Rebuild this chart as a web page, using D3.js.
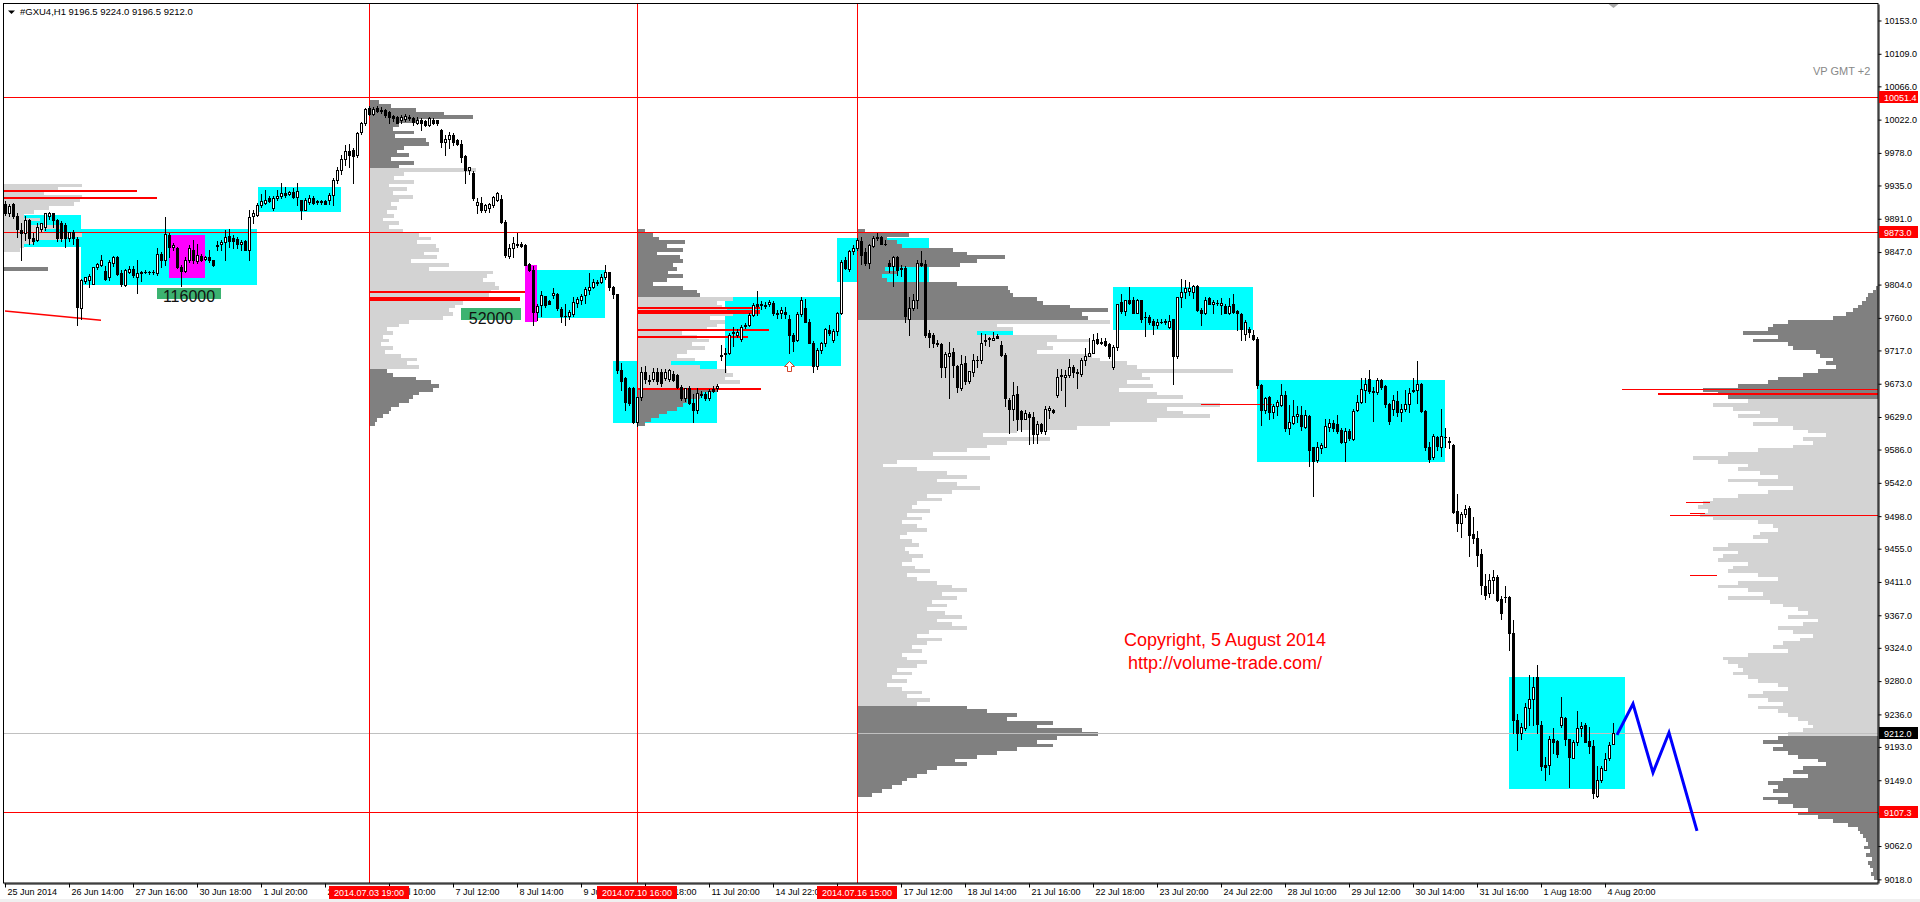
<!DOCTYPE html>
<html><head><meta charset="utf-8">
<script src="https://cdn.jsdelivr.net/npm/d3@7/dist/d3.min.js"></script>
<style>
html,body{margin:0;padding:0;background:#fff;overflow:hidden}
svg{display:block}
text{font-family:"Liberation Sans",Arial,sans-serif}
</style></head><body>
<svg id="chart" width="1920" height="902"></svg>
<script>
// ================= DATA =================
const title = "#GXU4,H1  9196.5 9224.0 9196.5 9212.0";
const indicatorName = "VP GMT +2";
const copyrightLines = ["Copyright, 5 August 2014", "http://volume-trade.com/"];

// H1 bars, index 0 = 25 Jun 2014 12:00 ; [open, high, low, close]
const ohlc = [
[9911,9915,9896,9898],[9898,9911,9894,9908],[9910,9912,9892,9894],[9894,9898,9867,9878],[9876,9885,9836,9872],
[9872,9894,9863,9890],[9890,9891,9858,9865],[9865,9872,9858,9861],[9863,9885,9861,9880],[9878,9886,9875,9885],
[9880,9899,9876,9898],[9894,9900,9891,9899],[9898,9899,9880,9889],[9889,9891,9861,9865],[9885,9888,9862,9865],
[9883,9885,9854,9865],[9865,9874,9862,9874],[9874,9876,9858,9865],[9864,9867,9751,9775],[9773,9811,9759,9810],
[9809,9814,9806,9814],[9810,9818,9801,9815],[9805,9827,9805,9827],[9827,9833,9824,9831],[9830,9843,9828,9837],
[9822,9828,9810,9812],[9814,9836,9810,9834],[9832,9842,9828,9840],[9840,9842,9817,9818],[9819,9823,9802,9805],
[9804,9825,9802,9823],[9821,9828,9819,9824],[9824,9828,9814,9817],[9814,9836,9793,9819],[9819,9822,9809,9821],
[9821,9823,9819,9820],[9820,9822,9818,9821],[9820,9823,9818,9821],[9819,9852,9817,9844],[9844,9847,9827,9837],
[9837,9893,9830,9871],[9870,9872,9841,9854],[9854,9859,9850,9856],[9853,9854,9826,9827],[9827,9830,9802,9822],
[9822,9841,9821,9836],[9836,9856,9834,9852],[9850,9863,9832,9836],[9835,9858,9832,9843],[9842,9844,9835,9836],
[9838,9842,9836,9841],[9841,9850,9834,9836],[9836,9837,9828,9830],[9855,9861,9850,9856],[9857,9863,9850,9860],
[9860,9876,9836,9867],[9868,9878,9854,9861],[9865,9869,9853,9861],[9864,9867,9852,9858],[9858,9863,9850,9860],
[9861,9863,9850,9850],[9850,9902,9836,9893],[9894,9902,9885,9898],[9896,9912,9894,9909],[9909,9924,9907,9915],
[9912,9929,9911,9916],[9918,9921,9913,9915],[9905,9921,9902,9919],[9918,9929,9916,9921],[9921,9938,9918,9925],
[9925,9933,9920,9922],[9924,9928,9922,9927],[9927,9932,9919,9920],[9920,9938,9909,9928],[9916,9916,9891,9902],
[9903,9918,9902,9916],[9913,9922,9911,9918],[9918,9921,9910,9912],[9913,9916,9911,9914],[9914,9916,9911,9913],
[9915,9916,9910,9911],[9916,9925,9911,9923],[9922,9945,9909,9942],[9942,9960,9938,9955],[9955,9975,9950,9970],
[9970,9988,9962,9980],[9980,9990,9960,9975],[9982,9984,9938,9974],[9975,10005,9973,10004],[10005,10019,10003,10017],
[10017,10038,10015,10036],[10037,10040,10028,10030],[10030,10039,10028,10036],[10037,10040,10032,10034],[10034,10039,10031,10035],
[10035,10036,10025,10028],[10032,10033,10017,10026],[10027,10028,10020,10024],[10026,10027,10017,10017],[10022,10028,10018,10025],
[10023,10030,10020,10027],[10024,10028,10021,10025],[10024,10026,10015,10019],[10018,10025,10016,10022],[10022,10024,10008,10017],
[10020,10021,10013,10015],[10015,10026,10013,10024],[10022,10024,10016,10017],[10021,10022,10015,10017],[10008,10010,9986,9993],
[9993,10002,9975,9996],[9996,10005,9984,10002],[10002,10004,9988,9993],[9995,9997,9988,9990],[9990,9995,9966,9973],
[9974,9975,9938,9955],[9955,9960,9950,9959],[9952,9954,9916,9918],[9909,9919,9898,9913],[9912,9920,9900,9903],
[9903,9911,9900,9909],[9905,9912,9900,9911],[9909,9921,9907,9920],[9916,9926,9914,9925],[9917,9923,9886,9887],
[9887,9889,9841,9843],[9842,9858,9839,9852],[9852,9867,9841,9859],[9858,9872,9854,9856],[9858,9860,9854,9855],
[9856,9858,9830,9830],[9831,9832,9822,9823],[9823,9828,9751,9768],[9768,9779,9757,9776],[9777,9795,9762,9790],
[9789,9789,9775,9777],[9782,9784,9778,9779],[9790,9799,9786,9793],[9792,9793,9770,9773],[9772,9775,9755,9762],
[9763,9779,9751,9762],[9762,9771,9758,9768],[9765,9788,9762,9781],[9780,9788,9775,9785],[9784,9791,9779,9789],
[9790,9801,9780,9798],[9797,9819,9792,9801],[9801,9812,9799,9807],[9806,9810,9804,9808],[9808,9818,9806,9814],
[9814,9830,9812,9821],[9820,9821,9797,9801],[9801,9802,9786,9791],[9791,9792,9687,9691],[9691,9700,9665,9676],
[9680,9682,9638,9649],[9667,9669,9645,9647],[9667,9669,9621,9623],[9622,9656,9617,9656],[9656,9695,9652,9689],
[9689,9696,9674,9679],[9678,9684,9672,9676],[9679,9694,9676,9689],[9689,9694,9672,9676],[9689,9693,9670,9674],
[9680,9692,9678,9689],[9679,9693,9676,9691],[9686,9690,9676,9678],[9684,9686,9668,9669],[9669,9671,9652,9654],
[9654,9668,9650,9667],[9667,9670,9646,9648],[9647,9660,9623,9638],[9638,9667,9634,9661],[9660,9663,9656,9658],
[9659,9662,9652,9654],[9654,9666,9652,9664],[9666,9670,9662,9664],[9667,9673,9664,9670],[9709,9724,9705,9711],
[9712,9720,9689,9714],[9714,9740,9712,9737],[9742,9748,9723,9740],[9737,9745,9735,9742],[9732,9750,9730,9748],
[9749,9753,9747,9751],[9751,9766,9749,9764],[9764,9780,9762,9777],[9779,9796,9764,9776],[9777,9782,9772,9778],
[9777,9781,9773,9776],[9778,9783,9776,9781],[9780,9782,9764,9766],[9766,9770,9760,9765],[9766,9774,9760,9770],
[9768,9774,9760,9765],[9758,9764,9713,9737],[9737,9740,9716,9729],[9731,9768,9729,9765],[9765,9788,9762,9784],
[9773,9785,9755,9755],[9755,9758,9727,9727],[9727,9729,9688,9696],[9696,9720,9692,9718],[9717,9728,9714,9727],
[9727,9747,9723,9745],[9744,9750,9738,9740],[9731,9745,9728,9743],[9743,9768,9738,9766],[9767,9836,9765,9834],
[9836,9840,9825,9826],[9824,9850,9822,9848],[9848,9856,9845,9852],[9852,9866,9850,9863],[9862,9867,9831,9843],
[9847,9852,9830,9833],[9833,9858,9826,9856],[9855,9868,9854,9866],[9866,9872,9863,9867],[9867,9868,9858,9858],
[9858,9863,9856,9858],[9833,9836,9821,9828],[9828,9842,9802,9840],[9840,9842,9817,9823],[9824,9830,9815,9826],
[9826,9828,9755,9762],[9759,9788,9737,9773],[9773,9792,9771,9784],[9783,9836,9773,9832],[9832,9849,9829,9830],
[9831,9836,9735,9737],[9740,9744,9722,9735],[9737,9740,9722,9727],[9727,9731,9723,9726],[9726,9727,9682,9695],
[9695,9715,9682,9712],[9709,9728,9654,9714],[9715,9720,9682,9698],[9696,9698,9662,9669],[9668,9711,9665,9699],
[9700,9709,9673,9676],[9676,9690,9674,9690],[9688,9712,9683,9705],[9705,9709,9695,9705],[9704,9740,9701,9727],
[9729,9739,9724,9731],[9732,9735,9723,9734],[9731,9742,9731,9734],[9736,9739,9733,9734],[9724,9730,9709,9711],
[9711,9713,9643,9654],[9651,9654,9608,9640],[9640,9675,9625,9658],[9659,9670,9612,9627],[9637,9638,9611,9627],
[9627,9638,9626,9634],[9633,9635,9594,9629],[9629,9635,9595,9607],[9607,9624,9595,9620],[9620,9621,9608,9610],
[9610,9644,9607,9640],[9638,9643,9628,9641],[9638,9640,9634,9635],[9658,9692,9656,9682],[9683,9692,9665,9684],
[9682,9691,9643,9685],[9684,9706,9682,9695],[9695,9698,9682,9688],[9688,9693,9667,9687],[9686,9707,9683,9705],
[9705,9720,9698,9709],[9710,9734,9709,9714],[9714,9739,9713,9731],[9732,9740,9726,9727],[9727,9734,9726,9728],
[9730,9734,9723,9724],[9726,9727,9707,9709],[9695,9724,9692,9722],[9722,9778,9717,9778],[9781,9791,9766,9769],
[9769,9784,9764,9784],[9784,9801,9778,9780],[9783,9788,9766,9767],[9767,9785,9766,9783],[9783,9784,9754,9759],
[9761,9768,9736,9761],[9761,9764,9752,9754],[9756,9758,9739,9750],[9751,9758,9747,9755],[9755,9758,9753,9755],
[9754,9758,9752,9756],[9748,9764,9746,9756],[9758,9759,9673,9709],[9709,9788,9707,9787],[9787,9811,9775,9794],
[9794,9810,9786,9799],[9796,9808,9790,9799],[9794,9803,9786,9802],[9802,9803,9769,9770],[9771,9773,9750,9766],
[9766,9788,9765,9784],[9786,9788,9779,9779],[9779,9784,9766,9781],[9780,9783,9777,9780],[9777,9786,9765,9780],
[9776,9779,9766,9767],[9766,9786,9765,9776],[9778,9792,9766,9768],[9769,9771,9744,9766],[9765,9767,9731,9745],
[9739,9757,9731,9755],[9745,9748,9735,9742],[9737,9744,9731,9732],[9732,9735,9667,9671],[9671,9673,9618,9638],
[9638,9656,9634,9654],[9655,9657,9627,9635],[9635,9646,9628,9644],[9644,9652,9632,9649],[9645,9673,9643,9658],
[9658,9664,9610,9615],[9615,9645,9607,9623],[9621,9651,9620,9630],[9630,9643,9623,9633],[9632,9644,9612,9617],
[9616,9638,9615,9632],[9630,9632,9564,9586],[9589,9590,9524,9571],[9572,9596,9570,9589],[9588,9595,9582,9592],
[9590,9627,9589,9617],[9616,9627,9610,9621],[9621,9625,9610,9614],[9620,9632,9608,9610],[9612,9614,9595,9596],
[9596,9614,9571,9610],[9610,9613,9599,9601],[9600,9640,9599,9637],[9638,9658,9637,9649],[9649,9681,9648,9666],
[9665,9681,9649,9673],[9679,9691,9661,9664],[9663,9669,9624,9662],[9662,9680,9660,9678],[9678,9679,9666,9669],
[9670,9671,9642,9646],[9646,9648,9620,9624],[9640,9658,9632,9651],[9650,9664,9630,9635],[9635,9646,9624,9639],
[9639,9665,9637,9646],[9646,9667,9635,9661],[9664,9680,9662,9665],[9665,9703,9647,9673],[9673,9674,9635,9637],
[9637,9638,9585,9590],[9589,9596,9570,9574],[9576,9607,9573,9604],[9602,9604,9586,9591],[9590,9640,9577,9604],
[9603,9614,9590,9602],[9597,9602,9588,9596],[9592,9593,9502,9503],[9505,9527,9478,9489],[9489,9503,9471,9501],
[9501,9513,9497,9508],[9509,9511,9445,9473],[9475,9497,9463,9469],[9469,9478,9432,9447],[9448,9454,9395,9407],
[9406,9422,9389,9394],[9396,9421,9391,9414],[9414,9427,9396,9417],[9418,9420,9386,9387],[9389,9392,9362,9370],
[9391,9406,9384,9391],[9391,9393,9321,9343],[9344,9361,9211,9229],[9229,9237,9189,9211],[9211,9224,9203,9220],
[9218,9251,9215,9246],[9245,9288,9222,9257],[9257,9286,9222,9272],[9285,9301,9211,9223],[9222,9227,9163,9168],
[9169,9180,9149,9167],[9169,9207,9157,9203],[9204,9218,9185,9200],[9201,9202,9180,9184],[9222,9259,9220,9232],
[9231,9232,9196,9204],[9203,9204,9140,9180],[9179,9202,9178,9199],[9199,9240,9196,9218],[9218,9226,9207,9221],
[9222,9224,9199,9200],[9201,9220,9185,9194],[9194,9202,9126,9132],[9128,9168,9127,9149],[9149,9168,9147,9165],
[9163,9185,9163,9177],[9178,9200,9176,9196],[9196.5,9224,9196.5,9212]
];

const xTickBars = [0,16,32,48,64,80,96,112,128,144,160,176,192,208,224,240,256,272,288,304,320,336,352,368,384,400];
const xTickLabels = ["25 Jun 2014","26 Jun 14:00","27 Jun 16:00","30 Jun 18:00","1 Jul 20:00","2 Jul 22:00","4 Jul 10:00",
 "7 Jul 12:00","8 Jul 14:00","9 Jul 16:00","10 Jul 18:00","11 Jul 20:00","14 Jul 22:00","16 Jul 10:00","17 Jul 12:00",
 "18 Jul 14:00","21 Jul 16:00","22 Jul 18:00","23 Jul 20:00","24 Jul 22:00","28 Jul 10:00","29 Jul 12:00","30 Jul 14:00",
 "31 Jul 16:00","1 Aug 18:00","4 Aug 20:00"];
const yTickValues = [10153,10109,10066,10022,9978,9935,9891,9847,9804,9760,9717,9673,9629,9586,9542,9498,9455,9411,
 9367,9324,9280,9236,9193,9149,9105,9062,9018];

const redLevels = [10051.4, 9873.0, 9107.3];
const lastPrice = 9212.0;
const markerBars = [91, 158, 213];
const markerLabels = ["2014.07.03 19:00", "2014.07.10 16:00", "2014.07.16 15:00"];

// zones: [startBar, endBar, highPrice, lowPrice]
const cyanZones = [[-0.25,19,9896,9854],[19,63,9877,9803],[63.2,84,9933,9900],[133,150,9823,9760],[152,178,9703,9621],
 [180,209,9787,9697],[208,231,9866,9807],[229,252,9745,9700],[277,312,9801,9744],[313,360,9678,9570],[376,405,9286,9138]];
const magentaZones = [[41,50,9869,9813],[130,133,9830,9755]];
const volumeTexts = ["116000", "52000"];
const volumeZones = [[38,54,9800,9785],[114,129,9773,9757]];

// volume profiles, rows every 5 points from the top price downward
const prof1Top = 9935, prof1Vols = [78,54,40,78,76,70,45,30,20,36,25,56,40,78,60,30,20,16,0,0,0,0,44];
const prof2Top = 10045, prof2Vols = [10,22,47,75,104,50,30,24,45,26,57,60,35,28,40,22,45,30,
 107,35,25,45,20,38,24,44,30,22,28,18,25,14,30,20,34,50,62,48,67,70,55,68,42,80,60,124,118,114,126,130,122,120,115,94,86,80,84,74,40,30,18,24,14,20,12,24,16,32,48,38,50,
 18,24,47,62,70,64,50,44,40,30,22,20,14,8,6];
const prof3Top = 9875, prof3Vols = [8,16,22,48,30,46,20,43,46,36,40,31,46,30,16,46,60,63,
 96,80,85,90,96,73,88,80,70,45,60,72,55,68,50,40,58,34,63,90,96,88,103,80,
 80,66,63,50,46,40,30,22,14,8];
const prof4Top = 9875, prof4Vols = [8,52,30,40,45,96,110,148,120,103,28,40,25,30,100,151,153,156,180,186,213,251,225,231,
 253,140,156,120,200,233,190,196,180,235,243,270,280,376,285,293,270,296,262,300,326,290,363,310,326,353,300,253,220,160,126,193,150,130,110,76,133,40,26,60,
 90,110,80,100,123,95,70,85,60,55,73,50,65,45,60,70,50,43,55,62,48,52,66,55,45,58,73,50,60,80,95,110,85,100,75,90,70,88,105,80,95,110,72,60,85,70,55,65,45,50,70,60,40,55,35,50,30,45,65,50,73,60,
 110,130,160,150,196,180,225,241,200,180,196,160,140,120,98,110,80,70,60,50,45,35,25,15];
const prof5Top = 9800, prof5Vols = [2,5,10,12,16,20,25,32,45,90,105,110,135,100,125,90,85,62,58,45,52,42,60,75,100,110,140,175,160,150,
 130,165,145,118,140,100,125,85,70,52,75,65,85,120,150,185,160,130,140,118,100,150,120,85,110,140,165,175,180,170,
 178,165,120,105,100,118,125,110,150,165,140,155,160,130,145,150,120,100,140,160,130,115,150,108,95,80,70,90,60,75,
 100,85,65,78,95,105,90,130,155,150,140,135,145,130,120,100,90,115,130,110,95,120,100,90,80,70,65,75,90,
 100,115,95,105,90,80,60,52,75,85,70,95,110,100,105,90,115,100,85,70,80,60,45,30,20,18,15,12,10,14,8,12,6,10,8,5,7,4];
const profAnchors = [-0.25, 91, 158, 213, 468.25];
const profValueAreas = [[9940,9840],[9957,9692],[9787,9668],[9757,9248],[9654,9208]];
// red volume marks anchored on profiles: [price, volume]
const prof1Marks = [[9929,133],[9920,153]];
const prof2Marks = [[9796,156],[9787,151],[9785,151]];
const prof3Marks = [[9775,123],[9771,123],[9768,123],[9745,132],[9736,111],[9667,124]];
const prof5MarksThin = [[9666,256]];
const prof5Marks = [[9661,220]];
// free red segments: [price, startBar, endBar]
const redSegments = [[9646,299,316.75],[9517,420.25,426.25],[9502,421.25,425],[9499,416.25,468.25],[9420,421.25,428]];
const slopedRed = [[0,9769],[24,9757]];
// forecast zig-zag
const forecastBars = [403,407,412,416,423];
const forecastPrices = [9209,9250,9159,9212,9082];
const arrowMark = [196, 9703];
const copyrightAnchor = [305, 9327];

// ================= DRAW =================
const svg = d3.select("#chart");
const L = 4, R = 1878, T = 4, B = 883;
const x = d3.scaleLinear().domain([-0.25, 468.25]).range([L, R]);
const y = d3.scaleLinear().domain([9013.2, 10174.8]).range([B, T]);
const vol = d3.scaleLinear().domain([0, 100]).range([0, 100]);
const FONT = '"Liberation Sans", Arial, sans-serif';

svg.append("rect").attr("width",1920).attr("height",902).attr("fill","#fff");
svg.append("rect").attr("x",0).attr("y",899).attr("width",1920).attr("height",3).attr("fill","#f0f0f0");

svg.append("clipPath").attr("id","plot").append("rect").attr("x",L).attr("y",T).attr("width",R-L).attr("height",B-T);
const plot = svg.append("g").attr("clip-path","url(#plot)").attr("shape-rendering","crispEdges");

function zone(g, z, fill){
  const x0 = Math.round(x(z[0])), x1 = Math.round(x(z[1]));
  const y0 = Math.round(y(z[2])), y1 = Math.round(y(z[3]));
  g.append("rect").attr("x",x0).attr("y",y0).attr("width",x1-x0).attr("height",y1-y0).attr("fill",fill);
}
cyanZones.forEach(z => zone(plot, z, "#00ffff"));
magentaZones.forEach(z => zone(plot, z, "#ff00ff"));

// volume profiles
const profTops = [prof1Top, prof2Top, prof3Top, prof4Top, prof5Top];
const profVols = [prof1Vols, prof2Vols, prof3Vols, prof4Vols, prof5Vols];
const profDirs = [1,1,1,1,-1];
profVols.forEach((vols, pi) => {
  const ax = Math.round(x(profAnchors[pi]));
  const dir = profDirs[pi];
  const va = profValueAreas[pi];
  const g = plot.append("g");
  vols.forEach((v, k) => {
    if (v <= 0) return;
    const p = profTops[pi] - 5*k;
    const y0 = Math.round(y(p + 2.5)), y1 = Math.round(y(p - 2.5));
    const w = Math.round(vol(v));
    const inVA = p <= va[0] && p >= va[1];
    g.append("rect").attr("x", dir > 0 ? ax : ax - w).attr("y", y0)
      .attr("width", w).attr("height", Math.max(1, y1 - y0))
      .attr("fill", inVA ? "#d3d3d3" : "#808080");
  });
});
function marks(list, pi, thick){
  const ax = Math.round(x(profAnchors[pi])), dir = profDirs[pi];
  list.forEach(m => {
    const w = Math.round(vol(m[1]));
    plot.append("rect").attr("x", dir > 0 ? ax : ax - w).attr("y", Math.round(y(m[0])))
      .attr("width", w).attr("height", thick).attr("fill", "#ff0000");
  });
}
marks(prof1Marks, 0, 2); marks(prof2Marks, 1, 2); marks(prof3Marks, 2, 2);
marks(prof5MarksThin, 4, 1); marks(prof5Marks, 4, 2);
redSegments.forEach(s => {
  const x0 = Math.round(x(s[1])), x1 = Math.round(x(s[2]));
  plot.append("rect").attr("x",x0).attr("y",Math.round(y(s[0]))).attr("width",x1-x0).attr("height",1).attr("fill","#ff0000");
});
plot.append("line").attr("x1",x(slopedRed[0][0])).attr("y1",y(slopedRed[0][1])).attr("x2",x(slopedRed[1][0])).attr("y2",y(slopedRed[1][1]))
  .attr("stroke","#ff0000").attr("stroke-width",1.5).attr("shape-rendering","auto");

// volume labels
volumeZones.forEach((z,i) => {
  zone(plot, z, "#3cb371");
  plot.append("text").attr("x",(x(z[0])+x(z[1]))/2).attr("y",y(z[3])+3.5).attr("text-anchor","middle")
    .style("font",`16px ${FONT}`).attr("fill","#111").text(volumeTexts[i]);
});

// horizontal / vertical lines
plot.append("rect").attr("x",L).attr("y",Math.round(y(lastPrice))).attr("width",R-L).attr("height",1).attr("fill","#c0c0c0");
redLevels.forEach(p => plot.append("rect").attr("x",L).attr("y",Math.round(y(p))).attr("width",R-L).attr("height",1).attr("fill","#ff0000"));
markerBars.forEach(b => plot.append("rect").attr("x",Math.round(x(b))).attr("y",T).attr("width",1).attr("height",B-T).attr("fill","#ff0000"));

// candles
const cg = plot.append("g");
ohlc.forEach((d, i) => {
  const [o,h,l,c] = d;
  const cx = Math.round(x(i));
  const yh = Math.round(y(h)), yl = Math.round(y(l));
  cg.append("rect").attr("x",cx).attr("y",yh).attr("width",1).attr("height",Math.max(1,yl-yh+1)).attr("fill","#000");
  const yt = Math.round(y(Math.max(o,c))), yb = Math.round(y(Math.min(o,c)));
  const hh = Math.max(1, yb-yt+1);
  cg.append("rect").attr("x",cx-1).attr("y",yt).attr("width",3).attr("height",hh).attr("fill","#000");
  if (c > o && hh > 2) cg.append("rect").attr("x",cx).attr("y",yt+1).attr("width",1).attr("height",hh-2).attr("fill","#fff");
});

// up arrow mark
{
  const ax = x(arrowMark[0]) + 0.5, ay = Math.round(y(arrowMark[1])) + 0.5;
  plot.append("path").attr("d",`M${ax},${ay} L${ax+5},${ay+5} L${ax+2},${ay+5} L${ax+2},${ay+10} L${ax-2},${ay+10} L${ax-2},${ay+5} L${ax-5},${ay+5} Z`)
    .attr("fill","#fff").attr("stroke","#d0452a").attr("stroke-width",1).attr("shape-rendering","auto");
}

// forecast zig-zag
plot.append("path").datum(forecastBars.map((b,i)=>[b,forecastPrices[i]]))
  .attr("d", d3.line().x(d=>x(d[0])).y(d=>y(d[1])))
  .attr("fill","none").attr("stroke","#0000ff").attr("stroke-width",3).attr("shape-rendering","auto");

// copyright
copyrightLines.forEach((t,i) => {
  plot.append("text").attr("x",x(copyrightAnchor[0])).attr("y",y(copyrightAnchor[1]) + i*23).attr("text-anchor","middle")
    .style("font",`18px ${FONT}`).attr("fill","#ff0000").text(t);
});

// frame
svg.append("rect").attr("x",3.5).attr("y",3.5).attr("width",R-3.5).attr("height",B-3.5).attr("fill","none").attr("stroke","#000").attr("stroke-width",1);

// title & indicator name
svg.append("path").attr("d","M8,10.5 L15,10.5 L11.5,14 Z").attr("fill","#000");
svg.append("text").attr("x",20).attr("y",15).style("font",`9.5px ${FONT}`).attr("fill","#000").text(title);
svg.append("text").attr("x",1813).attr("y",75).style("font",`11px ${FONT}`).attr("fill","#888").text(indicatorName);
svg.append("path").attr("d",`M${x(402)-4.5},4 L${x(402)+5.5},4 L${x(402)+0.5},8 Z`).attr("fill","#a8a8a8");

// axes
const gy = svg.append("g").attr("transform",`translate(${R+0.5},0)`)
  .call(d3.axisRight(y).tickValues(yTickValues).tickFormat(d=>d.toFixed(1)).tickSize(3).tickSizeOuter(0));
gy.select(".domain").attr("stroke","#000");
gy.selectAll(".tick line").attr("stroke","#000");
gy.selectAll("text").attr("x",6).attr("fill","#000").style("font",`9px ${FONT}`);

const gx = svg.append("g").attr("transform",`translate(0,${B+0.5})`)
  .call(d3.axisBottom(x).tickValues(xTickBars).tickFormat((d,i)=>xTickLabels[i]).tickSize(4).tickSizeOuter(0));
gx.select(".domain").attr("stroke","#000");
gx.selectAll(".tick line").attr("stroke","#000");
gx.selectAll("text").attr("text-anchor","start").attr("x",2).attr("y",5).attr("fill","#000").style("font",`9px ${FONT}`);

// red / black price labels
function priceLabel(p, fill, fg){
  const yy = Math.round(y(p));
  svg.append("rect").attr("x",R+1).attr("y",yy-6).attr("width",39).attr("height",12).attr("fill",fill);
  svg.append("text").attr("x",R+6).attr("y",yy+3.5).style("font",`9px ${FONT}`).attr("fill",fg).text(p.toFixed(1));
}
redLevels.forEach(p => priceLabel(p, "#ff0000", "#fff"));
priceLabel(lastPrice, "#000", "#fff");

// time marker labels
markerBars.forEach((b,i) => {
  const cx = Math.round(x(b));
  svg.append("rect").attr("x",cx-40).attr("y",B+3).attr("width",80).attr("height",13).attr("fill","#ff0000");
  svg.append("text").attr("x",cx).attr("y",B+13).attr("text-anchor","middle").style("font",`9px ${FONT}`).attr("fill","#fff").text(markerLabels[i]);
});
</script>
</body></html>
